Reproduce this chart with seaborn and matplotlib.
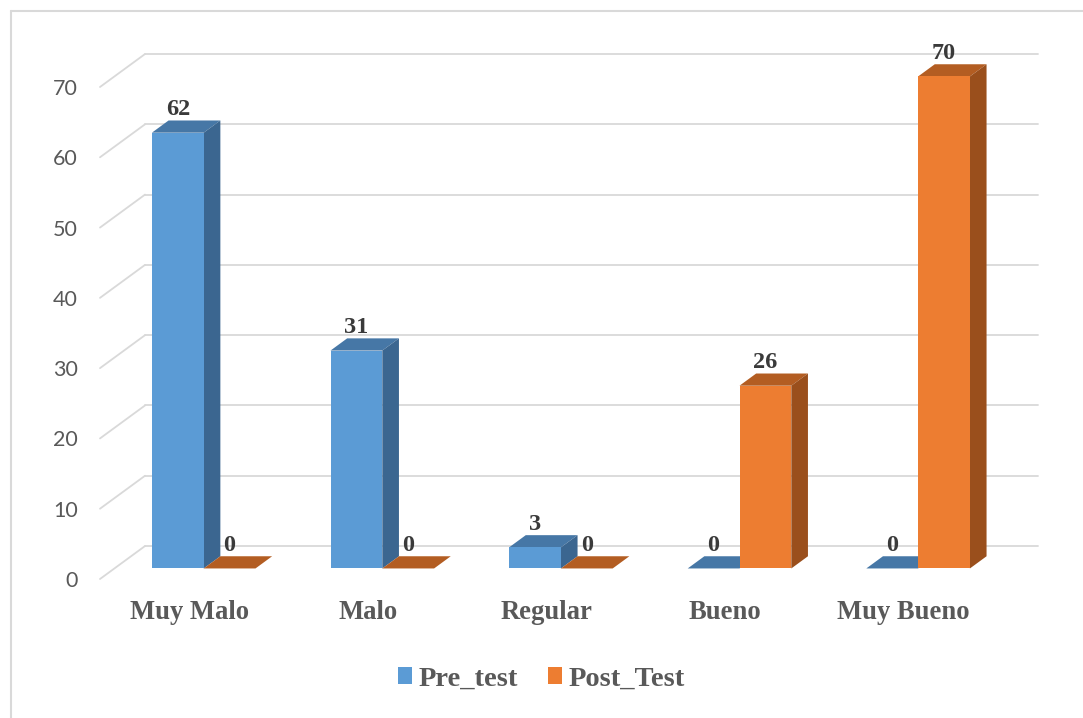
import numpy as np
import pandas as pd
import matplotlib
matplotlib.use("Agg")
import matplotlib.pyplot as plt
from matplotlib.patches import Polygon, Patch
from matplotlib.lines import Line2D
import seaborn as sns

# ---- data ----
categorias = ["Muy Malo", "Malo", "Regular", "Bueno", "Muy Bueno"]
series = ["Pre_test", "Post_Test"]
pre_test = [62, 31, 3, 0, 0]
post_test = [0, 0, 0, 26, 70]
y_ticks = [0, 10, 20, 30, 40, 50, 60, 70]

# ---- styling ----
FRONT = {"Pre_test": "#5b9bd5", "Post_Test": "#ed7d31"}
SIDE = {"Pre_test": "#3b6690", "Post_Test": "#9a4f1c"}
TOP = {"Pre_test": "#4677a6", "Post_Test": "#b35d22"}
GRID = "#d9d9d9"
TEXT = "#595959"
LABEL = "#3a3a3a"
SERIF = "Liberation Serif"

sns.set_style("white")
plt.rcParams["font.family"] = ["Lato", "DejaVu Sans"]

df = pd.DataFrame({
    "Categoria": categorias * 2,
    "Serie": [series[0]] * len(categorias) + [series[1]] * len(categorias),
    "Valor": pre_test + post_test,
})

W, H = 1083, 718
fig = plt.figure(figsize=(W / 100, H / 100), dpi=100)
fig.patch.set_facecolor("white")
ax = fig.add_axes([100 / W, (H - 579) / H, 893 / W, 492 / H])
ax.set_facecolor("none")

sns.barplot(data=df, x="Categoria", y="Valor", hue="Serie",
            hue_order=series, order=categorias,
            palette=[FRONT[s] for s in series], width=0.58,
            saturation=1, linewidth=0, legend=False, ax=ax)

ax.set_xlim(-0.5, len(categorias) - 0.5)
ax.set_ylim(0, 70)

# oblique projection: depth d in [0, 1] shifts points right and up
DX, DY = 0.252, 4.69
D0, D1 = 0.32, 0.69


def proj(x, y, d):
    return (x + d * DX, y + d * DY)


# back wall gridlines and the slanted side-wall segments
x_left, x_right = ax.get_xlim()
for t in y_ticks:
    xs, ys = zip(proj(x_left, t, 1), proj(x_right, t, 1))
    ax.add_line(Line2D(xs, ys, color=GRID, lw=1.3, zorder=1, clip_on=False))
    xs, ys = zip(proj(x_left, t, 0), proj(x_left, t, 1))
    ax.add_line(Line2D(xs, ys, color=GRID, lw=1.3, zorder=1, clip_on=False))

# extrude each seaborn bar into a box
bars = []
for j, (container, serie) in enumerate(zip(ax.containers, series)):
    for i, patch in enumerate(container.patches):
        bars.append((i, j, serie, patch))
bars.sort(key=lambda b: (b[0], b[1]))

for k, (i, j, serie, patch) in enumerate(bars):
    z = 3 + k * 0.1
    x0 = patch.get_x()
    w = patch.get_width()
    x1 = x0 + w
    h = patch.get_height()
    top = Polygon([proj(x0, h, D0), proj(x1, h, D0), proj(x1, h, D1), proj(x0, h, D1)],
                  closed=True, facecolor=TOP[serie], edgecolor="none",
                  zorder=z, clip_on=False)
    ax.add_patch(top)
    if h > 0:
        side = Polygon([proj(x1, 0, D0), proj(x1, h, D0), proj(x1, h, D1), proj(x1, 0, D1)],
                       closed=True, facecolor=SIDE[serie], edgecolor="none",
                       zorder=z, clip_on=False)
        ax.add_patch(side)
    fx, fy = proj(x0, 0, D0)
    patch.set_x(fx)
    patch.set_y(fy)
    patch.set_zorder(z + 0.01)
    patch.set_clip_on(False)

    ax.annotate(f"{h:g}", xy=proj(x0 + w / 2, h, D0), xytext=(0, 16.5),
                textcoords="offset points", ha="center", va="center",
                fontsize=17.5, fontweight="bold", family=SERIF, color=LABEL,
                zorder=10, annotation_clip=False)

# axes cosmetics
for s in ax.spines.values():
    s.set_visible(False)
ax.grid(False)
ax.set_yticks(y_ticks)
ax.set_yticklabels([str(t) for t in y_ticks])
ax.tick_params(axis="y", length=0, pad=16, labelsize=15.5, labelcolor=TEXT)
ax.tick_params(axis="x", length=0, pad=15, labelcolor=TEXT)
for lbl in ax.get_xticklabels():
    lbl.set_fontfamily(SERIF)
    lbl.set_fontweight("bold")
    lbl.set_fontsize(19.2)
ax.set_xlabel("")
ax.set_ylabel("")

# legend
handles = [Patch(facecolor=FRONT[s], edgecolor="none", label=s) for s in series]
fig.legend(handles=handles, loc="center", bbox_to_anchor=(0.500, 1 - 679 / H),
           ncol=2, frameon=False, handlelength=0.5, handleheight=0.5,
           handletextpad=0.22, columnspacing=1.05,
           prop={"family": SERIF, "weight": "bold", "size": 20.5},
           labelcolor=TEXT)

# chart frame (top and left edges)
fig.add_artist(Line2D([11 / W, 1], [1 - 11 / H, 1 - 11 / H],
                      transform=fig.transFigure, color=GRID, lw=1.5))
fig.add_artist(Line2D([11 / W, 11 / W], [0, 1 - 11 / H],
                      transform=fig.transFigure, color=GRID, lw=1.5))

fig.savefig("out.png", dpi=100, facecolor="white")
